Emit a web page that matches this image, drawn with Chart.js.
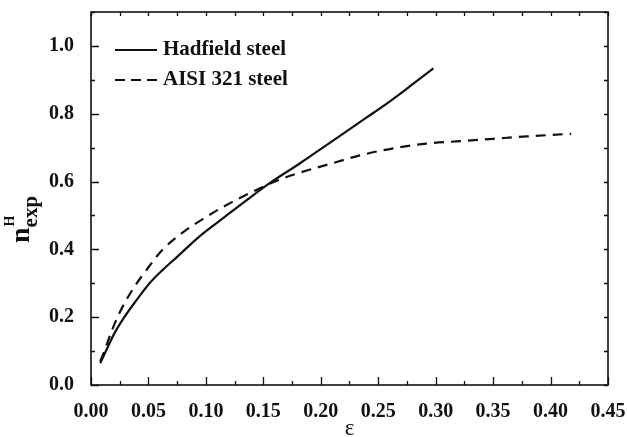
<!DOCTYPE html>
<html>
<head>
<meta charset="utf-8">
<script src="https://cdn.jsdelivr.net/npm/chart.js@4"></script>
<style>
  body { margin: 0; background: #fff; }
  canvas { display: block; }
</style>
</head>
<body>
<canvas id="chart" width="627" height="437"></canvas>
<script>
// strain values and hardening exponent
const hadfieldStrain = [0.008, 0.013, 0.020, 0.029, 0.040, 0.051, 0.062, 0.075, 0.095, 0.115, 0.137, 0.158, 0.182, 0.210, 0.240, 0.262, 0.280, 0.298];
const hadfieldN      = [0.064, 0.100, 0.150, 0.200, 0.252, 0.300, 0.338, 0.378, 0.440, 0.492, 0.549, 0.601, 0.654, 0.719, 0.789, 0.841, 0.887, 0.934];

const aisiStrain = [0.008, 0.0116, 0.017, 0.023, 0.035, 0.048, 0.062, 0.080, 0.100, 0.118, 0.137, 0.158, 0.176, 0.205, 0.234, 0.263, 0.292, 0.321, 0.350, 0.379, 0.418];
const aisiN      = [0.070, 0.100, 0.150, 0.200, 0.275, 0.338, 0.398, 0.450, 0.495, 0.531, 0.564, 0.597, 0.620, 0.649, 0.677, 0.698, 0.712, 0.719, 0.726, 0.733, 0.741];

const xTicks = [0, 0.05, 0.10, 0.15, 0.20, 0.25, 0.30, 0.35, 0.40, 0.45];
const yTicks = [0, 0.2, 0.4, 0.6, 0.8, 1.0];
const xMinorStep = 0.025;
const yMinorStep = 0.1;

const serif = "'Liberation Serif', 'DejaVu Serif', serif";
const ink = "#111";

const toPoints = (xs, ys) => xs.map((x, i) => ({ x: x, y: ys[i] }));

// frame, inward ticks, legend and axis titles
const decor = {
  id: "decor",
  afterDraw(chart) {
    const ctx = chart.ctx;
    const a = chart.chartArea;
    const xs = chart.scales.x;
    const ys = chart.scales.y;
    ctx.save();
    ctx.strokeStyle = ink;
    ctx.lineWidth = 1.6;
    ctx.strokeRect(a.left, a.top, a.right - a.left, a.bottom - a.top);

    ctx.lineWidth = 1.3;
    ctx.beginPath();
    for (let v = 0; v <= 0.45001; v += xMinorStep) {
      const px = Math.round(xs.getPixelForValue(v)) + 0.5;
      const major = Math.abs(v / 0.05 - Math.round(v / 0.05)) < 1e-6;
      ctx.moveTo(px, a.bottom);
      ctx.lineTo(px, a.bottom - (major ? 8 : 4));
      ctx.moveTo(px, a.top);
      ctx.lineTo(px, a.top + 4);
    }
    for (let v = 0; v <= 1.1001; v += yMinorStep) {
      const py = Math.round(ys.getPixelForValue(v)) + 0.5;
      const major = Math.abs(v / 0.2 - Math.round(v / 0.2)) < 1e-6;
      ctx.moveTo(a.left, py);
      ctx.lineTo(a.left + (major ? 8 : 4), py);
      ctx.moveTo(a.right, py);
      ctx.lineTo(a.right - 4, py);
    }
    ctx.stroke();

    // legend
    ctx.lineWidth = 2;
    ctx.beginPath();
    ctx.moveTo(115, 50);
    ctx.lineTo(157, 50);
    ctx.stroke();
    ctx.setLineDash([10, 6]);
    ctx.beginPath();
    ctx.moveTo(115, 80);
    ctx.lineTo(157, 80);
    ctx.stroke();
    ctx.setLineDash([]);
    ctx.fillStyle = ink;
    ctx.font = "bold 21px " + serif;
    ctx.textBaseline = "middle";
    ctx.textAlign = "left";
    ctx.fillText("Hadfield steel", 163, 50);
    ctx.fillText("AISI 321 steel", 163, 80);

    // x title
    ctx.font = "23px " + serif;
    ctx.textAlign = "center";
    ctx.textBaseline = "alphabetic";
    ctx.fillText("\u03b5", (a.left + a.right) / 2, 435);

    // y title: n with superscript H and subscript exp
    ctx.translate(29, 243);
    ctx.rotate(-Math.PI / 2);
    ctx.textAlign = "left";
    ctx.font = "bold 28px " + serif;
    ctx.fillText("n", 0, 0);
    const nw = ctx.measureText("n").width;
    ctx.font = "bold 14px " + serif;
    ctx.fillText("H", nw + 1, -15);
    ctx.font = "bold 21px " + serif;
    ctx.fillText("exp", nw, 8);
    ctx.restore();
  }
};

new Chart(document.getElementById("chart"), {
  type: "scatter",
  data: {
    datasets: [
      {
        label: "Hadfield steel",
        data: toPoints(hadfieldStrain, hadfieldN),
        showLine: true,
        borderColor: ink,
        borderWidth: 2.2,
        pointRadius: 0,
        cubicInterpolationMode: "monotone"
      },
      {
        label: "AISI 321 steel",
        data: toPoints(aisiStrain, aisiN),
        showLine: true,
        borderColor: ink,
        borderWidth: 2.2,
        borderDash: [10, 7],
        pointRadius: 0,
        cubicInterpolationMode: "monotone"
      }
    ]
  },
  options: {
    responsive: false,
    animation: false,
    layout: { padding: { left: 0, top: 12, right: 19, bottom: 0 } },
    plugins: {
      legend: { display: false },
      tooltip: { enabled: false }
    },
    scales: {
      x: {
        type: "linear",
        min: 0,
        max: 0.45,
        grid: { display: false },
        border: { display: false },
        afterFit: (s) => { s.height = 52; s.paddingLeft = 0; s.paddingRight = 0; },
        afterBuildTicks: (s) => { s.ticks = xTicks.map((v) => ({ value: v })); },
        ticks: {
          padding: 7,
          color: ink,
          maxRotation: 0,
          autoSkip: false,
          font: { family: serif, size: 20, weight: "bold" },
          callback: (v) => v.toFixed(2)
        }
      },
      y: {
        type: "linear",
        min: 0,
        max: 1.1,
        grid: { display: false },
        border: { display: false },
        afterFit: (s) => { s.width = 91; s.paddingTop = 0; s.paddingBottom = 0; },
        afterBuildTicks: (s) => { s.ticks = yTicks.map((v) => ({ value: v })); },
        ticks: {
          padding: 9,
          color: ink,
          autoSkip: false,
          font: { family: serif, size: 20, weight: "bold" },
          callback: (v) => v.toFixed(1)
        }
      }
    }
  },
  plugins: [decor]
});
</script>
</body>
</html>
